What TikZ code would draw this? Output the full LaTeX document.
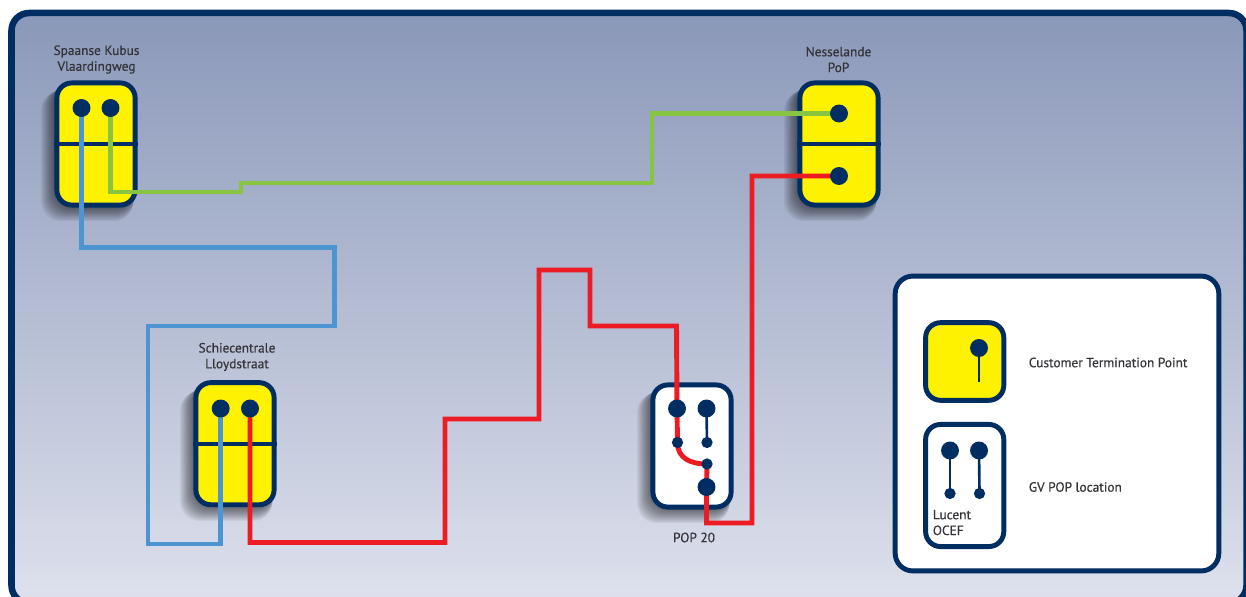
\documentclass[tikz,border=0pt]{standalone}
\usepackage{fontspec}
\setmainfont{PT Sans}[BoldFont={PT Sans},BoldFeatures={FakeBold=0.35}]
\usetikzlibrary{calc}
\definecolor{gvnavy}{RGB}{0, 45, 98}
\definecolor{gvyellow}{RGB}{255, 242, 0}
\definecolor{gvred}{RGB}{237, 28, 36}
\definecolor{gvgreen}{RGB}{135, 196, 65}
\definecolor{gvblue}{RGB}{77, 148, 210}
\definecolor{gvtext}{RGB}{51, 51, 56}
\definecolor{gvtop}{RGB}{138, 152, 185}
\definecolor{gvbottom}{RGB}{222, 225, 237}
\pgfdeclarelayer{dots}
\pgfsetlayers{main,dots}
\tikzset{
  panelbox/.style={draw=gvnavy, line width=2.8pt, rounded corners=8.5pt, fill=white, inner sep=0pt},
  ctpbox/.style={panelbox, fill=gvyellow, minimum width=44.5pt, minimum height=69.5pt},
  popbox/.style={panelbox, minimum width=44.5pt, minimum height=69.5pt},
  bigdot/.style={circle, fill=gvnavy, inner sep=0pt, minimum size=10.2pt},
  smalldot/.style={circle, fill=gvnavy, inner sep=0pt, minimum size=6.4pt},
  wire/.style={line width=2.8pt, line join=miter},
  thinwire/.style={draw=gvnavy, line width=1.5pt},
  divider/.style={draw=gvnavy, line width=2.5pt},
  caption/.style={font=\fontsize{7.6}{9}\selectfont\bfseries, text=gvtext, align=center, inner sep=0pt},
}
\newcommand{\boxshadow}[2]{%
  \foreach \i in {0,...,13} {
    \fill[black, opacity=0.05, rounded corners=11pt]
      ($(#1,#2)+(-40-\i*1.15,-62+\i*0.7)$) rectangle ($(#1,#2)+(40-\i*0.2,62+\i*1.15)$);
  }%
}
\begin{document}
\begin{tikzpicture}[x=0.02cm, y=-0.02cm]
    \useasboundingbox (0,0) rectangle (1246,597);
    \begin{scope}
      \clip (0,0) rectangle (1246,597);
      \draw[top color=gvtop, bottom color=gvbottom, draw=gvnavy, line width=3.7pt, rounded corners=10pt] (11.5,13) rectangle (1246.5,603);
    \end{scope}
    % shadows first
    \boxshadow{96}{144}
    \boxshadow{839}{144}
    \boxshadow{235}{444}
    \boxshadow{692}{446}
    % boxes
    \node[ctpbox] (kubus) at (96,144) {};
    \node[ctpbox] (nesselande) at (839,144) {};
    \node[ctpbox] (schie) at (235,443.7) {};
    \node[popbox] (pop) at (692,446) {};
    \draw[divider] (kubus.west) -- (kubus.east);
    \draw[divider] (nesselande.west) -- (nesselande.east);
    \draw[divider] (schie.west) -- (schie.east);
    % connection points
    \begin{pgfonlayer}{dots}
      \node[bigdot] (kubusa) at (81.5,108) {};
      \node[bigdot] (kubusb) at (110.5,108) {};
      \node[bigdot] (nesselandea) at (839,113.5) {};
      \node[bigdot] (nesselandeb) at (839,176) {};
      \node[bigdot] (schiea) at (220.7,408.5) {};
      \node[bigdot] (schieb) at (250,408.5) {};
      \node[bigdot] (popa) at (677,408.5) {};
      \node[bigdot] (popb) at (706.5,408.5) {};
      \node[smalldot] (popc) at (677.5,442.5) {};
      \node[smalldot] (popd) at (707,442.5) {};
      \node[smalldot] (pope) at (707,464) {};
      \node[bigdot] (popf) at (706.5,487) {};
    \end{pgfonlayer}
    % fibres
    \draw[wire, gvblue] (kubusa.center) |- (334.5,247.5) |- (148,326) -- (148,544) -| (schiea.center);
    \draw[wire, gvgreen] (kubusb.center) |- (241,192) |- (652,183) |- (nesselandea.center);
    \draw[wire, gvred] (schieb.center) |- (445,542.5) |- (539,419) |- (590,270) |- (676.5,326) -- (popa.center);
    \draw[wire, gvred] (popa.center) -- (popc.center);
    \draw[wire, gvred] (popc.center) .. controls (677.5,458) and (690,464) .. (pope.center);
    \draw[wire, gvred] (pope.center) -- (popf.center) |- (752,523) |- (nesselandeb.center);
    \draw[thinwire] (popb.center) -- (popd.center);
    % labels
    \node at (96.5,59.5) [caption] {Spaanse Kubus\\Vlaardingweg};
    \node at (838.5,59.5) [caption] {Nesselande\\PoP};
    \node at (237,357) [caption] {Schiecentrale\\Lloydstraat};
    \node at (694,537.5) [caption] {POP 20};
    % legend
    \node[panelbox, rounded corners=10pt, minimum width=184.2pt, minimum height=167.8pt] (legend) at (1057,423.5) {};
    \node[panelbox, fill=gvyellow, minimum width=44.5pt, minimum height=44.2pt] (legendctp) at (964.7,361.5) {};
    \node[popbox] (legendpop) at (964.7,485.5) {};
    \node[bigdot] (legendctpdot) at (979,348) {};
    \coordinate (legendctpend) at (979,382);
    \draw[thinwire] (legendctpdot.center) -- (legendctpend);
    \node[bigdot] (legenda) at (950,450.5) {};
    \node[bigdot] (legendb) at (979,450.5) {};
    \node[smalldot] (legendc) at (950,493.5) {};
    \node[smalldot] (legendd) at (979.5,493.5) {};
    \draw[thinwire] (legenda.center) -- (legendc.center);
    \draw[thinwire] (legendb.center) -- (legendd.center);
    \node at (932.5,522.5) [caption, anchor=west, align=left] {Lucent\\OCEF};
    \node at (1028.5,362.5) [caption, anchor=west] {Customer Termination Point};
    \node at (1028.5,487) [caption, anchor=west] {GV POP location};
  \end{tikzpicture}
\end{document}
